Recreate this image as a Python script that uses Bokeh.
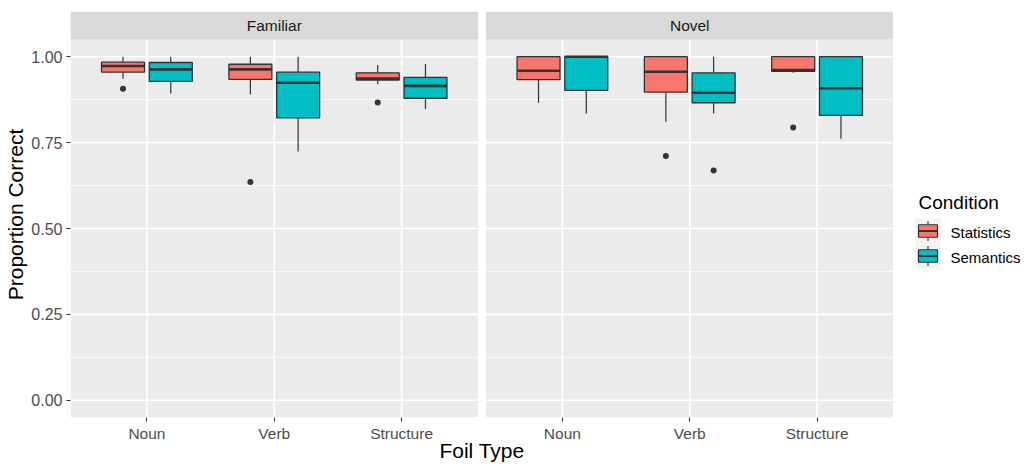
from bokeh.plotting import figure
from bokeh.layouts import row
from bokeh.models import Range1d, FixedTicker, NumeralTickFormatter, CustomJSTickFormatter
from bokeh.core.properties import value
from bokeh.embed import file_html
from bokeh.resources import INLINE

# ---------------- data ----------------
panels = ["Familiar", "Novel"]
foil_types = ["Noun", "Verb", "Structure"]
conditions = ["Statistics", "Semantics"]
colors = ["#F8766D", "#00BFC4"]

# Familiar panel
fam_stat_low = [0.936, 0.890, 0.920]
fam_stat_q1 = [0.955, 0.934, 0.932]
fam_stat_med = [0.973, 0.963, 0.936]
fam_stat_q3 = [0.984, 0.978, 0.953]
fam_stat_high = [1.000, 1.000, 0.976]

fam_sem_low = [0.893, 0.724, 0.848]
fam_sem_q1 = [0.928, 0.822, 0.879]
fam_sem_med = [0.963, 0.924, 0.915]
fam_sem_q3 = [0.983, 0.955, 0.940]
fam_sem_high = [1.000, 1.000, 0.979]

# Novel panel
nov_stat_low = [0.866, 0.811, 0.953]
nov_stat_q1 = [0.933, 0.897, 0.957]
nov_stat_med = [0.959, 0.956, 0.961]
nov_stat_q3 = [1.000, 1.000, 1.000]
nov_stat_high = [1.000, 1.000, 1.000]

nov_sem_low = [0.835, 0.835, 0.761]
nov_sem_q1 = [0.902, 0.866, 0.829]
nov_sem_med = [1.000, 0.895, 0.908]
nov_sem_q3 = [1.000, 0.953, 1.000]
nov_sem_high = [1.000, 1.000, 1.000]

# outliers: panel, foil type, condition, value
out_panel = ["Familiar", "Familiar", "Familiar", "Novel", "Novel", "Novel"]
out_foil = ["Noun", "Verb", "Structure", "Verb", "Verb", "Structure"]
out_cond = ["Statistics", "Statistics", "Statistics", "Statistics", "Semantics", "Statistics"]
out_value = [0.907, 0.635, 0.867, 0.711, 0.669, 0.794]

y_ticks = [0.0, 0.25, 0.5, 0.75, 1.0]
y_minor = [0.125, 0.375, 0.625, 0.875]

stats = {
    ("Familiar", "Statistics"): (fam_stat_low, fam_stat_q1, fam_stat_med, fam_stat_q3, fam_stat_high),
    ("Familiar", "Semantics"): (fam_sem_low, fam_sem_q1, fam_sem_med, fam_sem_q3, fam_sem_high),
    ("Novel", "Statistics"): (nov_stat_low, nov_stat_q1, nov_stat_med, nov_stat_q3, nov_stat_high),
    ("Novel", "Semantics"): (nov_sem_low, nov_sem_q1, nov_sem_med, nov_sem_q3, nov_sem_high),
}

# ---------------- layout ----------------
FONT = "Liberation Sans"
W_MAIN, W_LEG, H = 893, 139, 464
BL, BT = 70, 11
FH = 406
BB = H - BT - FH
X0 = 0.4
PANEL_W = 3.2
GAP = PANEL_W * 8 / 408
X1 = X0 + 2 * PANEL_W + GAP
YB, YT_PANEL = -0.05, 1.05
PYU = 378 / 1.1
YTOP = YT_PANEL + 28 / PYU

panel_off = {"Familiar": 0.0, "Novel": PANEL_W + GAP}
dodge = {"Statistics": -0.1875, "Semantics": 0.1875}
BOXW = 0.3375

def xpos(panel, foil, cond):
    return panel_off[panel] + foil_types.index(foil) + 1 + dodge[cond]

p = figure(width=W_MAIN, height=H, x_range=Range1d(X0, X1), y_range=Range1d(YB, YTOP),
           output_backend="svg", toolbar_location=None,
           min_border_left=BL, min_border_right=0, min_border_top=BT, min_border_bottom=BB)
p.outline_line_color = None
p.background_fill_color = "white"
p.border_fill_color = "white"
p.grid.visible = False

# panels, grid and strips
for pn in panels:
    left = X0 + panel_off[pn]
    right = left + PANEL_W
    p.quad(left=[left], right=[right], bottom=[YB], top=[YT_PANEL],
           fill_color="#EBEBEB", line_color=None)
    p.segment(x0=[left] * len(y_minor), x1=[right] * len(y_minor), y0=y_minor, y1=y_minor,
              line_color="white", line_width=0.8)
    p.segment(x0=[left] * len(y_ticks), x1=[right] * len(y_ticks), y0=y_ticks, y1=y_ticks,
              line_color="white", line_width=1.6)
    cx = [panel_off[pn] + i + 1 for i in range(len(foil_types))]
    p.segment(x0=cx, x1=cx, y0=[YB] * 3, y1=[YT_PANEL] * 3, line_color="white", line_width=1.6)
    p.quad(left=[left], right=[right], bottom=[YT_PANEL], top=[YTOP],
           fill_color="#D9D9D9", line_color=None)
    p.text(x=[(left + right) / 2], y=[(YT_PANEL + YTOP) / 2], text=[pn],
           text_font=value(FONT), text_font_size="15.5px", text_color="#1A1A1A",
           text_align="center", text_baseline="middle")

# boxplots
for (pn, cond), (lo, q1, med, q3, hi) in stats.items():
    col = colors[conditions.index(cond)]
    xs = [xpos(pn, f, cond) for f in foil_types]
    p.segment(x0=xs, x1=xs, y0=lo, y1=q1, line_color="#333333", line_width=1.2)
    p.segment(x0=xs, x1=xs, y0=q3, y1=hi, line_color="#333333", line_width=1.2)
    p.quad(left=[x - BOXW / 2 for x in xs], right=[x + BOXW / 2 for x in xs],
           bottom=q1, top=q3, fill_color=col, line_color="#333333", line_width=1.3)
    p.segment(x0=[x - BOXW / 2 for x in xs], x1=[x + BOXW / 2 for x in xs], y0=med, y1=med,
              line_color="#333333", line_width=2.6)

ox = [xpos(a, b, c) for a, b, c in zip(out_panel, out_foil, out_cond)]
p.scatter(x=ox, y=out_value, size=6, fill_color="#333333", line_color=None)

# axes
yax = p.yaxis[0]
yax.ticker = FixedTicker(ticks=y_ticks)
yax.formatter = NumeralTickFormatter(format="0.00")
yax.axis_line_color = None
yax.major_tick_line_color = "#333333"
yax.major_tick_out = 4
yax.major_tick_in = 0
yax.minor_tick_line_color = None
yax.major_label_standoff = 4
yax.major_label_text_font = FONT
yax.major_label_text_font_size = "16px"
yax.major_label_text_color = "#4D4D4D"
yax.axis_label = "Proportion Correct"
yax.axis_label_text_font = FONT
yax.axis_label_text_font_size = "21px"
yax.axis_label_text_font_style = "normal"
yax.axis_label_text_color = "black"
yax.axis_label_standoff = 1

tick_pos = [panel_off[pn] + i + 1 for pn in panels for i in range(len(foil_types))]
tick_lab = [f for pn in panels for f in foil_types]
xax = p.xaxis[0]
xax.ticker = FixedTicker(ticks=tick_pos)
xax.formatter = CustomJSTickFormatter(args=dict(pos=tick_pos, lab=tick_lab), code="""
    let best = 0, bd = 1e9;
    for (let i = 0; i < pos.length; i++) { const d = Math.abs(pos[i] - tick); if (d < bd) { bd = d; best = i; } }
    return lab[best];
""")
xax.axis_line_color = None
xax.major_tick_line_color = "#333333"
xax.major_tick_out = 4
xax.major_tick_in = 0
xax.minor_tick_line_color = None
xax.major_label_standoff = 3
xax.major_label_text_font = FONT
xax.major_label_text_font_size = "15.5px"
xax.major_label_text_color = "#4D4D4D"
xax.axis_label = "Foil Type"
xax.axis_label_text_font = FONT
xax.axis_label_text_font_size = "21px"
xax.axis_label_text_font_style = "normal"
xax.axis_label_text_color = "black"
xax.axis_label_standoff = -6

# ---------------- legend panel (pixel coordinates; frame aligned with main frame) ----------------
lg = figure(width=W_LEG, height=H, x_range=Range1d(0, W_LEG), y_range=Range1d(BT + FH, BT),
            output_backend="svg", toolbar_location=None,
            min_border_left=0, min_border_right=0, min_border_top=BT, min_border_bottom=BB)
lg.axis.visible = False
lg.grid.visible = False
lg.outline_line_color = None
lg.background_fill_color = "white"
lg.border_fill_color = "white"

LX = 918 - W_MAIN
lg.text(x=[LX], y=[202], text=["Condition"], text_font=value(FONT),
        text_font_size="19px", text_color="black", text_align="left", text_baseline="middle")
key_tops = [218, 243]
KH = 25
for i, cond in enumerate(conditions):
    t = key_tops[i]
    lg.quad(left=[LX - 3], right=[LX + 22], top=[t], bottom=[t + KH],
            fill_color="#F2F2F2", line_color=None)
    xc = LX + 9.5
    lg.segment(x0=[xc, xc], x1=[xc, xc], y0=[t + 2.5, t + KH * 0.75],
               y1=[t + KH * 0.25, t + KH - 2.5], line_color="#333333", line_width=1.1)
    lg.quad(left=[LX], right=[LX + 19], top=[t + KH * 0.25], bottom=[t + KH * 0.75],
            fill_color=colors[i], line_color="#333333", line_width=1.2)
    lg.segment(x0=[LX], x1=[LX + 19], y0=[t + KH / 2], y1=[t + KH / 2],
               line_color="#333333", line_width=1.8)
    lg.text(x=[LX + 32], y=[t + KH / 2 + 1], text=[cond], text_font=value(FONT),
            text_font_size="15px", text_color="black", text_align="left", text_baseline="middle")

layout = row(p, lg, spacing=0)
open("out.html", "w").write(file_html(layout, INLINE))
